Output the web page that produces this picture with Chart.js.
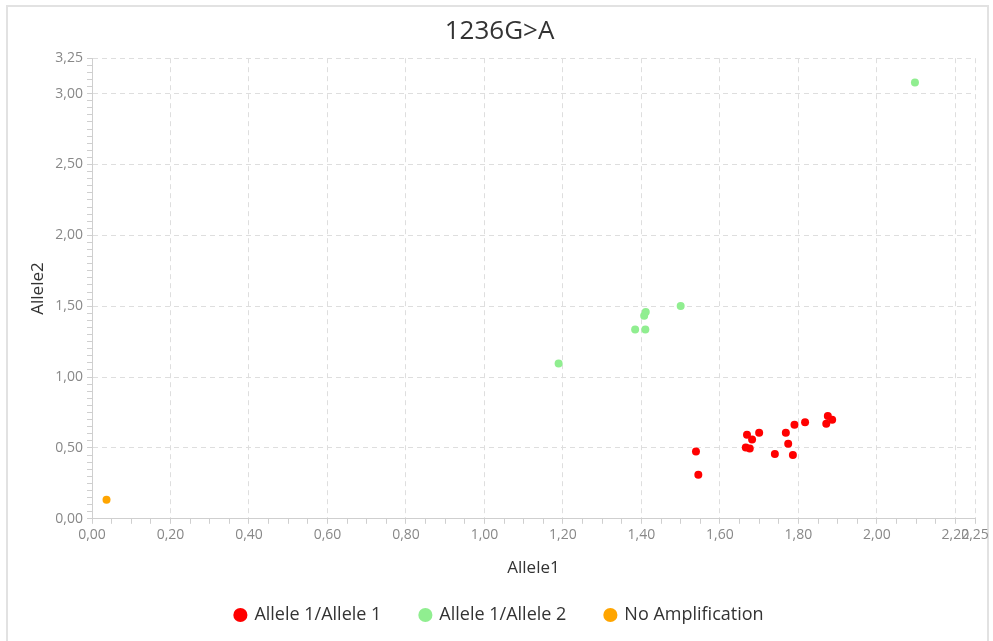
<!DOCTYPE html>
<html>
<head>
<meta charset="utf-8">
<title>1236G>A</title>
<script src="https://cdn.jsdelivr.net/npm/chart.js"></script>
<style>
  html, body { margin: 0; padding: 0; background: #fff; }
  #wrap { position: relative; width: 993px; height: 641px; }
</style>
</head>
<body>
<div id="wrap"><canvas id="scatterChart" width="993" height="641"></canvas></div>
<script>
// 數據
const allele11X = [1.539, 1.545, 1.669, 1.682, 1.666, 1.676, 1.700, 1.740, 1.768, 1.774, 1.786, 1.790, 1.817, 1.871, 1.875, 1.886];
const allele11Y = [0.475, 0.310, 0.593, 0.560, 0.503, 0.496, 0.607, 0.458, 0.607, 0.529, 0.451, 0.664, 0.682, 0.671, 0.725, 0.699];
const allele12X = [1.189, 1.384, 1.410, 1.407, 1.411, 1.500, 2.097];
const allele12Y = [1.096, 1.336, 1.336, 1.433, 1.459, 1.501, 3.079];
const noAmpX = [0.037];
const noAmpY = [0.135];

const xMajorTicks = [0, 0.2, 0.4, 0.6, 0.8, 1.0, 1.2, 1.4, 1.6, 1.8, 2.0, 2.2, 2.25];
const yMajorTicks = [0, 0.5, 1.0, 1.5, 2.0, 2.5, 3.0, 3.25];
const minorStep = 0.05;

const toPoints = (xs, ys) => xs.map((x, i) => ({ x: x, y: ys[i] }));
const isMajor = (list, v) => list.some(t => Math.abs(t - v) < 1e-6);
const fmt = v => v.toFixed(2).replace('.', ',');

function buildTicks(majors) {
    const max = majors[majors.length - 1];
    const vals = [];
    for (let i = 0; i * minorStep <= max + 1e-9; i++) vals.push(+(i * minorStep).toFixed(4));
    majors.forEach(m => { if (!vals.some(v => Math.abs(v - m) < 1e-6)) vals.push(m); });
    return vals.sort((a, b) => a - b).map(v => ({ value: v }));
}

// 外框
const framePlugin = {
    id: 'frame',
    beforeDraw(chart) {
        const c = chart.ctx;
        c.save();
        c.strokeStyle = '#e2e2e2';
        c.lineWidth = 2;
        c.strokeRect(7, 6, 981, 700);
        c.restore();
    }
};

const tickFont = { family: 'Open Sans', size: 14 };

new Chart(document.getElementById('scatterChart').getContext('2d'), {
    type: 'scatter',
    data: {
        datasets: [{
            label: 'Allele 1/Allele 1',
            data: toPoints(allele11X, allele11Y),
            backgroundColor: '#ff0000',
            borderColor: '#ff0000'
        }, {
            label: 'Allele 1/Allele 2',
            data: toPoints(allele12X, allele12Y),
            backgroundColor: '#90ee90',
            borderColor: '#90ee90'
        }, {
            label: 'No Amplification',
            data: toPoints(noAmpX, noAmpY),
            backgroundColor: '#ffa500',
            borderColor: '#ffa500'
        }]
    },
    options: {
        responsive: false,
        animation: false,
        layout: { padding: { left: 24, right: 18, top: 2, bottom: 7 } },
        elements: { point: { radius: 4, hoverRadius: 5, borderWidth: 0 } },
        plugins: {
            title: {
                display: true,
                text: '1236G>A',
                color: '#333',
                font: { family: 'Open Sans', size: 26, weight: 'normal' },
                padding: { top: 14, bottom: 11 }
            },
            legend: {
                position: 'bottom',
                labels: {
                    usePointStyle: true,
                    pointStyle: 'circle',
                    boxWidth: 10,
                    boxHeight: 10,
                    padding: 39,
                    color: '#333',
                    font: { family: 'Open Sans', size: 18 }
                }
            },
            tooltip: { enabled: false }
        },
        scales: {
            x: {
                type: 'linear',
                min: 0,
                max: 2.25,
                afterBuildTicks: axis => { axis.ticks = buildTicks(xMajorTicks); },
                afterFit: axis => { axis.height += 7; },
                ticks: {
                    autoSkip: false,
                    maxRotation: 0,
                    color: '#888',
                    font: tickFont,
                    padding: 3,
                    callback: v => isMajor(xMajorTicks, v) ? fmt(v) : ''
                },
                grid: {
                    color: c => (c.tick && isMajor(xMajorTicks, c.tick.value)) ? '#dedede' : 'rgba(0,0,0,0)',
                    tickColor: '#cfcfcf',
                    tickLength: 5
                },
                border: { color: '#cfcfcf', dash: [5, 4] },
                title: {
                    display: true,
                    text: 'Allele1',
                    color: '#333',
                    font: { family: 'Open Sans', size: 17 },
                    padding: { top: 4, bottom: -11 }
                }
            },
            y: {
                type: 'linear',
                min: 0,
                max: 3.25,
                afterBuildTicks: axis => { axis.ticks = buildTicks(yMajorTicks); },
                afterFit: axis => { axis.width = 68; },
                ticks: {
                    autoSkip: false,
                    color: '#888',
                    font: tickFont,
                    padding: 4,
                    callback: v => isMajor(yMajorTicks, v) ? fmt(v) : ''
                },
                grid: {
                    color: c => (c.tick && isMajor(yMajorTicks, c.tick.value)) ? '#dedede' : 'rgba(0,0,0,0)',
                    tickColor: '#cfcfcf',
                    tickLength: 5
                },
                border: { color: '#cfcfcf', dash: [5, 4] },
                title: {
                    display: true,
                    text: 'Allele2',
                    color: '#333',
                    font: { family: 'Open Sans', size: 17 },
                    padding: { top: 4, bottom: 0 }
                }
            }
        }
    },
    plugins: [framePlugin]
});
</script>
</body>
</html>
